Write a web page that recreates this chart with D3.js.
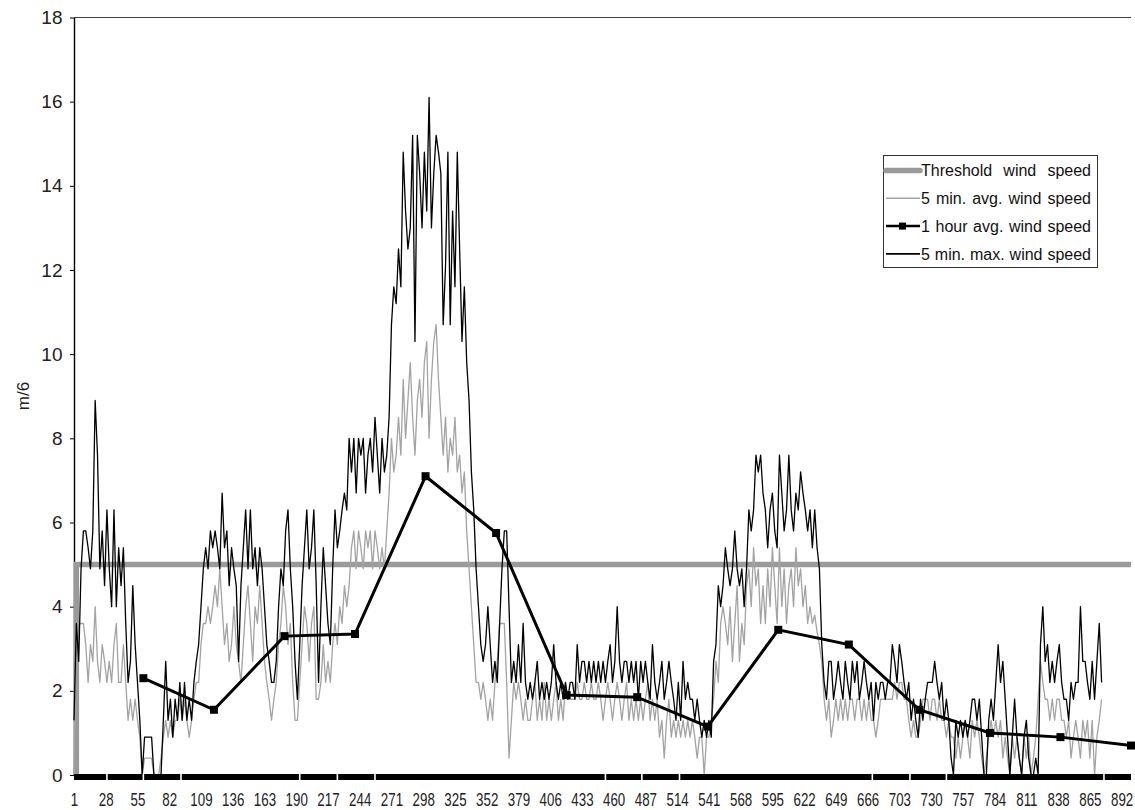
<!DOCTYPE html>
<html>
<head>
<meta charset="utf-8">
<script src="https://cdn.jsdelivr.net/npm/d3@7"></script>
<style>
  html, body { margin: 0; padding: 0; background: #fff; }
  svg { display: block; font-family: "Liberation Sans", Arial, sans-serif; }
</style>
</head>
<body>
<svg id="chart" width="1135" height="810"></svg>
<script>
// 5-minute maximum wind speed (m/s), one reading every 2 minutes from minute 1
const maxSpeed = [
  1.3, 3.6, 2.7, 4.9, 5.8, 5.8, 5.4, 4.9, 5.8, 8.9,
  7.6, 4.9, 5.8, 4.5, 6.3, 4.9, 4.0, 6.3, 4.0, 5.4,
  4.5, 5.4, 3.6, 2.2, 2.7, 4.5, 3.1, 2.2, 1.3, 0,
  0.9, 0.9, 0.9, 0.9, 0, 0, 0, 0, 1.3, 2.7,
  1.3, 1.8, 0.9, 1.8, 1.3, 2.2, 1.3, 2.2, 1.3, 1.8,
  1.3, 2.2, 2.7, 3.1, 4.0, 4.9, 5.4, 4.9, 5.8, 5.4,
  5.8, 5.4, 4.9, 6.7, 5.4, 5.8, 4.5, 5.4, 4.9, 4.5,
  2.7, 4.5, 5.4, 6.3, 4.9, 6.3, 4.9, 5.4, 4.5, 5.4,
  4.9, 4.0, 3.1, 2.7, 2.2, 2.2, 2.7, 4.0, 4.9, 4.5,
  5.8, 6.3, 4.9, 4.0, 2.7, 1.8, 3.1, 4.5, 5.4, 6.3,
  4.9, 5.4, 6.3, 4.5, 2.2, 4.0, 5.4, 4.5, 3.6, 3.1,
  4.9, 6.3, 5.4, 5.8, 6.3, 6.7, 6.3, 8.0, 7.2, 8.0,
  6.7, 8.0, 7.6, 8.0, 6.7, 7.6, 8.0, 7.2, 8.5, 7.6,
  6.7, 8.0, 7.2, 7.6, 8.5, 10.7, 11.6, 11.2, 12.5, 11.6,
  14.8, 13.4, 12.5, 13.0, 15.2, 10.3, 15.2, 14.3, 13.0, 14.8,
  13.4, 16.1, 13.0, 14.3, 15.2, 14.8, 14.3, 10.7, 12.1, 14.8,
  10.7, 13.4, 11.6, 14.8, 12.5, 10.3, 11.6, 9.8, 8.9, 7.2,
  6.3, 4.9, 4.0, 3.1, 2.7, 3.1, 4.0, 3.1, 2.2, 2.7,
  2.2, 3.6, 4.9, 5.8, 5.8, 4.0, 2.2, 2.7, 2.2, 3.1,
  2.2, 3.6, 2.2, 1.8, 2.2, 1.8, 2.2, 2.7, 1.8, 2.2,
  1.8, 2.2, 1.8, 2.2, 3.1, 2.2, 1.8, 2.2, 1.8, 2.2,
  1.8, 2.2, 2.2, 1.8, 3.1, 2.2, 2.7, 2.7, 2.2, 2.7,
  2.2, 2.7, 2.2, 2.7, 2.2, 2.7, 2.2, 2.7, 3.1, 2.2,
  2.7, 4.0, 2.7, 2.2, 2.7, 2.7, 2.2, 2.7, 2.2, 2.7,
  1.8, 2.7, 2.2, 2.7, 2.2, 1.8, 3.1, 2.2, 1.8, 2.2,
  2.7, 1.8, 2.2, 2.7, 2.2, 1.8, 1.3, 2.2, 1.3, 2.7,
  1.8, 2.2, 1.8, 1.8, 1.3, 1.8, 1.3, 0.9, 1.3, 0.9,
  1.3, 0.9, 2.7, 3.1, 4.5, 4.0, 4.5, 5.4, 4.9, 4.5,
  4.9, 5.8, 4.9, 4.5, 4.9, 4.0, 4.9, 6.3, 5.8, 6.3,
  7.6, 7.2, 7.6, 6.7, 6.3, 5.4, 6.3, 6.7, 5.8, 5.4,
  7.6, 6.7, 5.8, 6.3, 7.6, 6.3, 5.8, 6.7, 6.3, 7.2,
  6.7, 6.3, 5.8, 6.3, 5.4, 6.3, 5.4, 4.9, 3.1, 2.2,
  1.8, 2.7, 2.7, 1.8, 2.2, 2.7, 2.2, 1.8, 2.7, 2.2,
  1.8, 2.7, 2.2, 2.7, 1.8, 2.2, 2.7, 2.2, 1.8, 2.2,
  1.3, 2.2, 1.8, 2.2, 2.2, 1.8, 2.2, 2.2, 3.1, 2.7,
  2.2, 3.1, 2.7, 2.2, 1.8, 2.2, 1.3, 1.8, 1.3, 0.9,
  1.8, 1.3, 1.8, 2.2, 2.2, 2.2, 2.7, 2.2, 1.8, 2.2,
  1.3, 1.8, 1.3, 0.4, 0, 1.3, 0.9, 1.3, 0.9, 1.3,
  0.9, 1.3, 1.8, 1.8, 1.3, 1.8, 0.9, 0, 0, 1.3,
  1.8, 1.3, 2.2, 3.1, 2.2, 2.7, 1.8, 0.9, 0, 0.9,
  1.8, 0.9, 0.4, 0, 0.9, 1.3, 0.4, 0, 0, 0.4,
  0, 3.1, 4.0, 2.7, 3.1, 2.2, 2.7, 2.2, 2.7, 3.1,
  2.2, 1.8, 1.8, 1.3, 2.2, 1.8, 2.2, 2.2, 4.0, 2.7,
  2.7, 2.2, 1.8, 2.7, 1.8, 2.7, 3.6, 2.2
];

// 5-minute average wind speed (m/s), same minutes as above
const avgSpeed = [
  0, 3.6, 3.6, 3.6, 3.6, 3.1, 2.2, 3.1, 2.7, 4.0,
  2.7, 2.2, 3.1, 2.7, 2.2, 2.7, 2.2, 3.1, 3.6, 2.2,
  2.2, 3.1, 2.2, 1.3, 1.8, 1.3, 1.8, 1.3, 0.9, 0,
  0.4, 0.4, 0.4, 0.4, 0, 0, 0, 0.4, 0.9, 1.3,
  0.9, 1.3, 0.9, 1.3, 1.3, 1.8, 1.3, 1.8, 1.3, 0.9,
  1.3, 1.8, 2.2, 2.2, 3.1, 3.6, 3.6, 4.0, 3.6, 4.0,
  4.5, 4.0, 4.9, 4.0, 3.1, 3.6, 2.7, 3.1, 4.0, 3.1,
  2.7, 2.2, 3.1, 4.0, 4.5, 3.6, 2.7, 4.0, 3.6, 4.5,
  3.6, 2.7, 2.2, 1.8, 1.3, 1.8, 2.2, 3.1, 3.6, 4.5,
  4.0, 3.1, 3.6, 2.2, 1.3, 1.3, 2.2, 3.1, 4.0, 3.6,
  2.7, 3.6, 4.0, 1.8, 1.8, 2.2, 3.1, 2.2, 2.7, 2.2,
  3.1, 3.6, 3.1, 4.0, 3.6, 4.5, 4.0, 4.5, 5.4, 5.8,
  4.9, 5.8, 5.4, 4.9, 5.8, 5.4, 5.8, 4.9, 5.8, 5.4,
  4.9, 5.4, 4.9, 5.8, 6.7, 8.0, 7.2, 7.6, 8.5, 7.6,
  9.4, 8.0, 8.9, 9.8, 8.5, 7.6, 8.9, 9.4, 8.5, 9.8,
  10.3, 8.0, 9.4, 10.3, 10.7, 9.4, 8.5, 7.6, 8.5, 7.2,
  8.0, 7.6, 8.5, 7.2, 7.6, 6.7, 7.2, 5.8, 4.9, 4.0,
  3.1, 2.2, 2.2, 1.8, 2.2, 1.8, 1.3, 1.8, 1.3, 2.2,
  2.7, 3.6, 3.6, 3.6, 2.2, 0.4, 1.3, 2.2, 1.8, 2.2,
  1.8, 1.3, 1.8, 1.3, 1.3, 1.8, 2.2, 1.3, 1.8, 1.3,
  2.2, 1.3, 1.8, 1.3, 1.8, 2.2, 1.3, 1.8, 1.3, 2.2,
  1.8, 1.8, 1.8, 1.8, 2.2, 1.8, 1.8, 2.2, 1.8, 1.8,
  2.2, 1.8, 1.8, 2.2, 1.8, 1.3, 1.8, 2.2, 1.8, 1.3,
  1.8, 2.2, 1.8, 1.3, 1.8, 2.2, 1.3, 1.8, 1.3, 1.8,
  1.3, 1.8, 1.3, 1.8, 2.2, 1.3, 1.8, 1.3, 1.8, 0.9,
  1.3, 0.4, 1.3, 1.8, 0.9, 1.3, 0.9, 1.3, 0.9, 1.3,
  0.9, 1.3, 0.9, 1.3, 0.9, 0.4, 0.9, 0.9, 0, 0.9,
  0.9, 1.3, 1.8, 2.7, 2.2, 3.6, 4.0, 3.6, 3.1, 4.0,
  2.7, 3.6, 4.5, 2.7, 3.6, 3.1, 4.5, 4.9, 4.0, 5.4,
  4.5, 4.9, 3.6, 4.5, 3.6, 4.9, 4.0, 5.4, 4.5, 3.6,
  5.4, 4.0, 4.9, 3.6, 4.5, 4.9, 4.0, 5.4, 4.5, 4.9,
  4.0, 4.5, 3.6, 4.0, 3.6, 3.8, 3.4, 3.1, 2.7, 1.8,
  1.3, 1.8, 0.9, 1.3, 1.8, 1.3, 1.8, 1.3, 1.8, 1.3,
  1.8, 1.8, 1.3, 1.8, 1.8, 1.3, 1.8, 1.3, 1.8, 1.3,
  1.3, 0.9, 1.3, 1.8, 1.8, 1.8, 1.8, 1.8, 1.8, 2.2,
  1.8, 2.2, 2.2, 1.8, 1.8, 1.3, 0.9, 1.3, 0.9, 0.9,
  1.3, 1.8, 1.8, 1.8, 1.3, 1.8, 1.8, 1.3, 1.8, 1.3,
  1.3, 0.9, 1.3, 0.9, 0.9, 0.4, 0.9, 0.4, 0.9, 1.3,
  0.9, 0.4, 1.3, 0.9, 1.3, 0.9, 0.4, 0, 0.4, 0.9,
  1.3, 0.9, 1.3, 0.9, 1.3, 0.4, 0.9, 0.4, 0, 0.9,
  0.4, 0.9, 0.4, 0, 0.9, 0.4, 0.9, 0, 0.4, 0.9,
  1.8, 2.7, 2.2, 1.8, 1.8, 1.3, 1.8, 1.3, 1.8, 1.8,
  1.3, 1.3, 0.9, 1.3, 0.4, 0.9, 1.3, 0.9, 0.4, 1.3,
  0.9, 1.3, 0.4, 1.3, 0, 0.9, 1.3, 1.8
];

// 1-hour average wind speed, one value at the end of every hour
const hourMinutes = [60, 120, 180, 240, 300, 360, 420, 480, 540, 600, 660, 720, 780, 840, 900];
const hourAvg = [2.3, 1.55, 3.3, 3.35, 7.1, 5.75, 1.9, 1.85, 1.15, 3.45, 3.1, 1.55, 1.0, 0.9, 0.7];

// Threshold wind speed series
const thresholdMinutes = [3, 3, 900];
const thresholdValues = [0, 5, 5];

// Category axis labels (as printed on the axis)
const xTickMinutes = [1, 28, 55, 82, 109, 136, 163, 190, 217, 244, 271, 298, 325, 352, 379, 406, 433,
  460, 487, 514, 541, 568, 595, 622, 649, 676, 703, 730, 757, 784, 811, 838, 865, 892];
const xTickLabels = ["1", "28", "55", "82", "109", "136", "163", "190", "217", "244", "271", "298", "325",
  "352", "379", "406", "433", "460", "487", "514", "541", "568", "595", "622", "649", "666", "703", "730",
  "757", "784", "811", "838", "865", "892"];
const yTicks = [0, 2, 4, 6, 8, 10, 12, 14, 16, 18];

// Minutes where the heavy base line is broken by tick marks
const baseGapMinutes = [29, 60, 92, 193, 225, 257, 453, 484, 516, 680, 712, 743, 877];

const legendLabels = ["Threshold wind speed", "5 min. avg. wind speed", "1 hour avg. wind speed", "5 min. max. wind speed"];

// ---------------------------------------------------------------
const svg = d3.select("#chart");
const plot = { left: 74, right: 1131, top: 17.5, bottom: 775 };

const x = d3.scaleLinear().domain([1, 900]).range([plot.left, plot.right]);
const y = d3.scaleLinear().domain([0, 18]).range([plot.bottom, plot.top]);

const sampleMinutes = maxSpeed.map((_, i) => 1 + 2 * i);

const GRAY = "#9a9a9a";

// top frame line
svg.append("line")
  .attr("x1", plot.left).attr("x2", plot.right)
  .attr("y1", plot.top).attr("y2", plot.top)
  .attr("stroke", "#444").attr("stroke-width", 1.2);

// y axis
const yAxis = svg.append("g")
  .attr("transform", `translate(${plot.left},0)`)
  .call(d3.axisLeft(y).tickValues(yTicks).tickSize(4).tickSizeOuter(0).tickPadding(7.5));
yAxis.select(".domain").attr("stroke", "#000").attr("stroke-width", 1.4);
yAxis.selectAll(".tick line").attr("stroke", "#000");
yAxis.selectAll(".tick text")
  .attr("font-family", "Liberation Sans, Arial, sans-serif")
  .attr("font-size", 19).attr("fill", "#222");

// y title
svg.append("text")
  .attr("transform", "translate(23.5,396) rotate(-90)")
  .attr("text-anchor", "middle")
  .attr("dominant-baseline", "central")
  .attr("font-size", 17).attr("fill", "#222")
  .text("m/6");

const line = d3.line().x(d => x(d[0])).y(d => y(d[1]));

// threshold
svg.append("path")
  .datum(thresholdMinutes.map((m, i) => [m, thresholdValues[i]]))
  .attr("d", line)
  .attr("fill", "none").attr("stroke", GRAY).attr("stroke-width", 5.5);

// 5 min average
svg.append("path")
  .datum(sampleMinutes.map((m, i) => [m, avgSpeed[i]]))
  .attr("d", line)
  .attr("fill", "none").attr("stroke", "#a3a3a3").attr("stroke-width", 1.3)
  .attr("stroke-linejoin", "round");

// 1 hour average
svg.append("path")
  .datum(hourMinutes.map((m, i) => [m, hourAvg[i]]))
  .attr("d", line)
  .attr("fill", "none").attr("stroke", "#000").attr("stroke-width", 3);
svg.append("g").selectAll("rect")
  .data(hourMinutes.map((m, i) => [m, hourAvg[i]]))
  .join("rect")
  .attr("x", d => x(d[0]) - 4).attr("y", d => y(d[1]) - 4)
  .attr("width", 8).attr("height", 8).attr("fill", "#000");

// 5 min maximum
svg.append("path")
  .datum(sampleMinutes.map((m, i) => [m, maxSpeed[i]]))
  .attr("d", line)
  .attr("fill", "none").attr("stroke", "#000").attr("stroke-width", 1.3)
  .attr("stroke-linejoin", "round");

// heavy base line with tick breaks
svg.append("rect")
  .attr("x", plot.left).attr("y", plot.bottom - 1)
  .attr("width", plot.right - plot.left).attr("height", 6)
  .attr("fill", "#000");
svg.append("g").selectAll("line")
  .data(baseGapMinutes)
  .join("line")
  .attr("x1", d => x(d)).attr("x2", d => x(d))
  .attr("y1", plot.bottom - 1).attr("y2", plot.bottom + 5)
  .attr("stroke", "#fff").attr("stroke-width", 1.6);

// x axis labels
const xAxis = svg.append("g")
  .attr("transform", `translate(0,${plot.bottom})`)
  .call(d3.axisBottom(x).tickValues(xTickMinutes)
    .tickFormat((d, i) => xTickLabels[i]).tickSize(0).tickPadding(18));
xAxis.select(".domain").remove();
xAxis.selectAll(".tick text")
  .attr("font-family", "Liberation Sans, Arial, sans-serif")
  .attr("font-size", 18).attr("fill", "#222")
  .attr("transform", "scale(0.74,1)");

// legend
const lg = svg.append("g");
lg.append("rect")
  .attr("x", 883.5).attr("y", 155.5).attr("width", 214).attr("height", 112)
  .attr("fill", "#fff").attr("stroke", "#333").attr("stroke-width", 1);

const rowY = i => 170.5 + i * 27.8;
const sym = [
  { stroke: GRAY, width: 5.5, marker: false },
  { stroke: "#a3a3a3", width: 1.5, marker: false },
  { stroke: "#000", width: 2.5, marker: true },
  { stroke: "#000", width: 1.6, marker: false }
];
legendLabels.forEach((label, i) => {
  const cy = rowY(i);
  lg.append("line")
    .attr("x1", 886).attr("x2", 920).attr("y1", cy).attr("y2", cy)
    .attr("stroke", sym[i].stroke).attr("stroke-width", sym[i].width)
    .attr("stroke-linecap", i === 0 ? "round" : "butt");
  if (sym[i].marker) {
    lg.append("rect").attr("x", 899).attr("y", cy - 3.5)
      .attr("width", 7).attr("height", 7).attr("fill", "#000");
  }
  const t = lg.append("text")
    .attr("x", 921).attr("y", cy + 5.8)
    .attr("font-size", 16).attr("fill", "#111")
    .text(label);
  const natural = t.node().getComputedTextLength();
  const spaces = label.split(" ").length - 1;
  const target = 170;
  if (spaces > 0 && natural < target) {
    t.attr("word-spacing", (target - natural) / spaces);
  }
});
</script>
</body>
</html>
